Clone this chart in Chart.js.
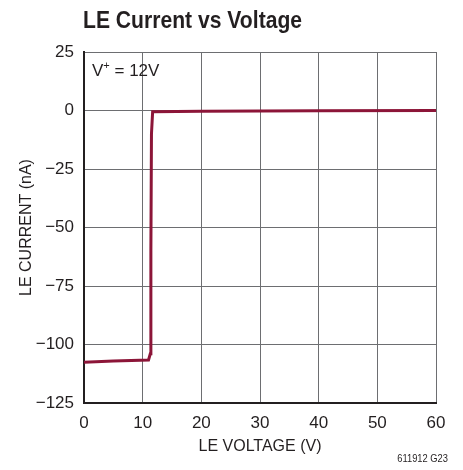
<!DOCTYPE html>
<html>
<head>
<meta charset="utf-8">
<script src="https://cdn.jsdelivr.net/npm/chart.js@4/dist/chart.umd.min.js"></script>
<style>
  html, body { margin: 0; padding: 0; background: #fff; }
  #wrap { width: 463px; height: 470px; }
</style>
</head>
<body>
<div id="wrap"><canvas id="chart" width="463" height="470"></canvas></div>
<script>
const FONT = '"Liberation Sans", Arial, sans-serif';

// LE voltage (V) vs LE current (nA)
const leVoltage = [0, 5, 11.0, 11.3, 11.4, 11.5, 11.7, 20, 40, 60];
const leCurrent = [-107.6, -107.1, -106.6, -104, -60, -10, -0.5, -0.3, -0.1, 0];
const xTicks = [0, 10, 20, 30, 40, 50, 60];
const yTicks = [25, 0, -25, -50, -75, -100, -125];

const chartTitle = 'LE Current vs Voltage';
const noteText = ['V', '+', ' = 12V'];
const figureId = '611912 G23';

const points = leVoltage.map((v, i) => ({x: v, y: leCurrent[i]}));

// squeezed text, the original uses a condensed face
function narrowText(ctx, text, x, y, squeeze) {
    ctx.save();
    ctx.translate(x, y);
    ctx.scale(squeeze, 1);
    ctx.fillText(text, 0, 0);
    ctx.restore();
}

// title, condition note and figure number
const textPlugin = {
    id: 'textPlugin',
    afterDraw(chart) {
        const ctx = chart.ctx;
        const area = chart.chartArea;
        ctx.save();
        ctx.fillStyle = '#231f20';
        ctx.textBaseline = 'alphabetic';
        ctx.textAlign = 'left';
        ctx.font = 'bold 24px ' + FONT;
        narrowText(ctx, chartTitle, area.left - 1, 28, 0.88);

        // V+ = 12V
        let x = area.left + 8;
        const y = area.top + 24;
        ctx.font = '17px ' + FONT;
        ctx.fillText(noteText[0], x, y);
        x += ctx.measureText(noteText[0]).width;
        ctx.font = '11px ' + FONT;
        ctx.fillText(noteText[1], x, y - 7);
        x += ctx.measureText(noteText[1]).width;
        ctx.font = '17px ' + FONT;
        ctx.fillText(noteText[2], x, y);

        ctx.font = '11px ' + FONT;
        ctx.textAlign = 'right';
        narrowText(ctx, figureId, 448, 462, 0.85);
        ctx.restore();
    }
};

new Chart(document.getElementById('chart').getContext('2d'), {
    type: 'scatter',
    data: {
        datasets: [{
            data: points,
            showLine: true,
            borderColor: '#8c1538',
            backgroundColor: '#8c1538',
            borderWidth: 3,
            pointRadius: 0,
            tension: 0
        }]
    },
    options: {
        responsive: false,
        animation: false,
        layout: {
            padding: {top: 52, right: 27, bottom: 0, left: 0}
        },
        plugins: {
            legend: {display: false},
            tooltip: {enabled: false}
        },
        scales: {
            x: {
                type: 'linear',
                min: 0,
                max: 60,
                afterBuildTicks(scale) {
                    scale.ticks = xTicks.map(v => ({value: v}));
                },
                afterFit(scale) {
                    scale.height = 67;
                },
                grid: {
                    color: '#6d6e71',
                    lineWidth: 1,
                    drawTicks: false
                },
                border: {color: '#231f20', width: 2},
                ticks: {
                    padding: 10,
                    color: '#231f20',
                    font: {family: FONT, size: 17}
                },
                title: {
                    display: true,
                    text: 'LE VOLTAGE (V)',
                    color: '#231f20',
                    font: {family: FONT, size: 16},
                    padding: {top: 0, bottom: 14}
                }
            },
            y: {
                type: 'linear',
                min: -125,
                max: 25,
                afterBuildTicks(scale) {
                    scale.ticks = yTicks.map(v => ({value: v}));
                },
                afterFit(scale) {
                    scale.width = 84;
                },
                grid: {
                    color: '#6d6e71',
                    lineWidth: 1,
                    drawTicks: false
                },
                border: {color: '#231f20', width: 2},
                ticks: {
                    padding: 10,
                    color: '#231f20',
                    font: {family: FONT, size: 17},
                    callback: v => v < 0 ? '\u2212' + Math.abs(v) : String(v)
                },
                title: {
                    display: true,
                    text: 'LE CURRENT (nA)',
                    color: '#231f20',
                    font: {family: FONT, size: 16},
                    padding: {top: 17, bottom: 0}
                }
            }
        }
    },
    plugins: [textPlugin]
});
</script>
</body>
</html>
